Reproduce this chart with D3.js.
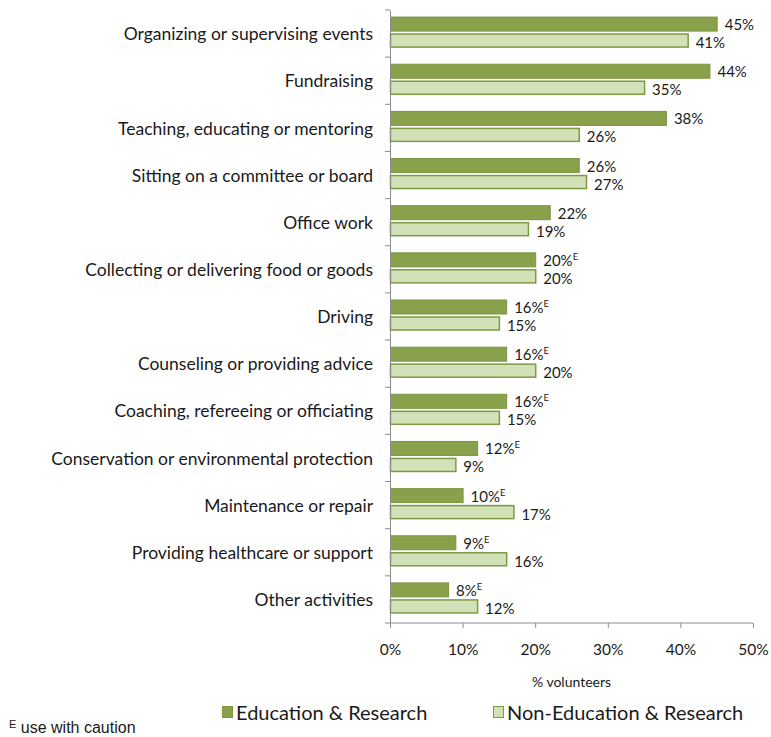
<!DOCTYPE html>
<html>
<head>
<meta charset="utf-8">
<script src="https://cdn.jsdelivr.net/npm/d3@7"></script>
<style>
  body { margin: 0; background: #fff; }
  svg { display: block; }
</style>
</head>
<body>
<svg id="chart" width="771" height="737"></svg>
<script>
// Volunteer activities: Education & Research vs other volunteers
const categories = [
  "Organizing or supervising events",
  "Fundraising",
  "Teaching, educating or mentoring",
  "Sitting on a committee or board",
  "Office work",
  "Collecting or delivering food or goods",
  "Driving",
  "Counseling or providing advice",
  "Coaching, refereeing or officiating",
  "Conservation or environmental protection",
  "Maintenance or repair",
  "Providing healthcare or support",
  "Other activities"
];
const eduValues    = [45, 44, 38, 26, 22, 20, 16, 16, 16, 12, 10, 9, 8];
const nonEduValues = [41, 35, 26, 27, 19, 20, 15, 20, 15, 9, 17, 16, 12];
// "E" = use with caution
const eduCaution   = [false, false, false, false, false, true, true, true, true, true, true, true, true];
const xTicks = [0, 10, 20, 30, 40, 50];
const seriesNames = ["Education & Research", "Non-Education & Research"];

const colors = {
  eduFill: "#8AA14B", eduStroke: "#7C9440",
  nonFill: "#D3E1B8", nonStroke: "#7C9A42",
  axis: "#8C8C8C", text: "#1a1a1a"
};
const font = "Lato, 'Open Sans', sans-serif";

const svg = d3.select("#chart");
const margin = { left: 390, right: 18, top: 10, bottom: 114 };
const W = 771, H = 737;

const x = d3.scaleLinear().domain([0, 50]).range([margin.left, W - margin.right]);
const y = d3.scaleBand().domain(categories).range([margin.top, H - margin.bottom]).padding(0);

const g = svg.append("g");

// bars
const rows = categories.map((c, i) => ({ c, edu: eduValues[i], non: nonEduValues[i], e: eduCaution[i] }));
const bw = y.bandwidth();

const row = g.selectAll("g.row").data(rows).join("g").attr("class", "row")
  .attr("transform", d => `translate(0,${y(d.c) + bw / 2})`);

row.append("rect")
  .attr("x", x(0) + 0.5)
  .attr("y", -16.5)
  .attr("width", d => x(d.edu) - x(0))
  .attr("height", 14)
  .attr("fill", colors.eduFill)
  .attr("stroke", colors.eduStroke)
  .attr("stroke-width", 1);

row.append("rect")
  .attr("x", x(0) + 0.5)
  .attr("y", 0.5)
  .attr("width", d => x(d.non) - x(0))
  .attr("height", 13)
  .attr("fill", colors.nonFill)
  .attr("stroke", colors.nonStroke)
  .attr("stroke-width", 1.5);

// value labels
const eduLbl = row.append("text")
  .attr("x", d => x(d.edu) + 8)
  .attr("y", -3.5)
  .attr("font-family", font).attr("font-size", 15).attr("fill", colors.text);
eduLbl.append("tspan").text(d => d.edu + "%");
eduLbl.filter(d => d.e).append("tspan")
  .attr("dy", -6).attr("font-size", 9.5).text("E");

row.append("text")
  .attr("x", d => x(d.non) + 8)
  .attr("y", 14.5)
  .attr("font-family", font).attr("font-size", 15).attr("fill", colors.text)
  .text(d => d.non + "%");

// y axis
const yAxis = d3.axisLeft(y).tickSize(0).tickPadding(17);
const yg = g.append("g").attr("transform", `translate(${x(0)},0)`).call(yAxis);
yg.select(".domain").attr("stroke", colors.axis);
yg.selectAll("text").attr("font-family", font).attr("font-size", 17.5).attr("fill", colors.text)
  .attr("dy", "0.38em");
// category boundary ticks
const bounds = categories.map(c => y(c)).concat([y.range()[1]]);
g.append("g").selectAll("line").data(bounds).join("line")
  .attr("x1", x(0) - 5).attr("x2", x(0))
  .attr("y1", d => d).attr("y2", d => d)
  .attr("stroke", colors.axis);

// x axis
const xAxis = d3.axisBottom(x).tickValues(xTicks).tickFormat(d => d + "%").tickSize(5).tickPadding(16);
const xg = g.append("g").attr("transform", `translate(0,${y.range()[1]})`).call(xAxis);
xg.select(".domain").attr("stroke", colors.axis).attr("d", `M${x(0)},0H${x(50)}`);
xg.selectAll("line").attr("stroke", colors.axis);
xg.selectAll("text").attr("font-family", font).attr("font-size", 15.5).attr("fill", colors.text);

// axis title
g.append("text")
  .attr("x", (x(0) + x(50)) / 2).attr("y", 687)
  .attr("text-anchor", "middle")
  .attr("font-family", font).attr("font-size", 14).attr("fill", colors.text)
  .text("% volunteers");

// legend
const legend = g.append("g");
const legItems = [
  { name: seriesNames[0], fill: colors.eduFill, stroke: colors.eduStroke, x: 222 },
  { name: seriesNames[1], fill: colors.nonFill, stroke: colors.nonStroke, x: 493 }
];
const li = legend.selectAll("g").data(legItems).join("g")
  .attr("transform", d => `translate(${d.x},706)`);
li.append("rect").attr("x", 0.5).attr("y", 0.5).attr("width", 10).attr("height", 11)
  .attr("fill", d => d.fill).attr("stroke", d => d.stroke);
li.append("text").attr("x", 14).attr("y", 13.5)
  .attr("font-family", font).attr("font-size", 20).attr("fill", colors.text)
  .text(d => d.name);

// footnote
const fn = g.append("text").attr("x", 9).attr("y", 733)
  .attr("font-family", "'Liberation Sans', Arial, sans-serif").attr("font-size", 16).attr("fill", colors.text);
fn.append("tspan").attr("font-size", 11).attr("dy", -5).text("E");
fn.append("tspan").attr("dy", 5).text(" use with caution");
</script>
</body>
</html>
